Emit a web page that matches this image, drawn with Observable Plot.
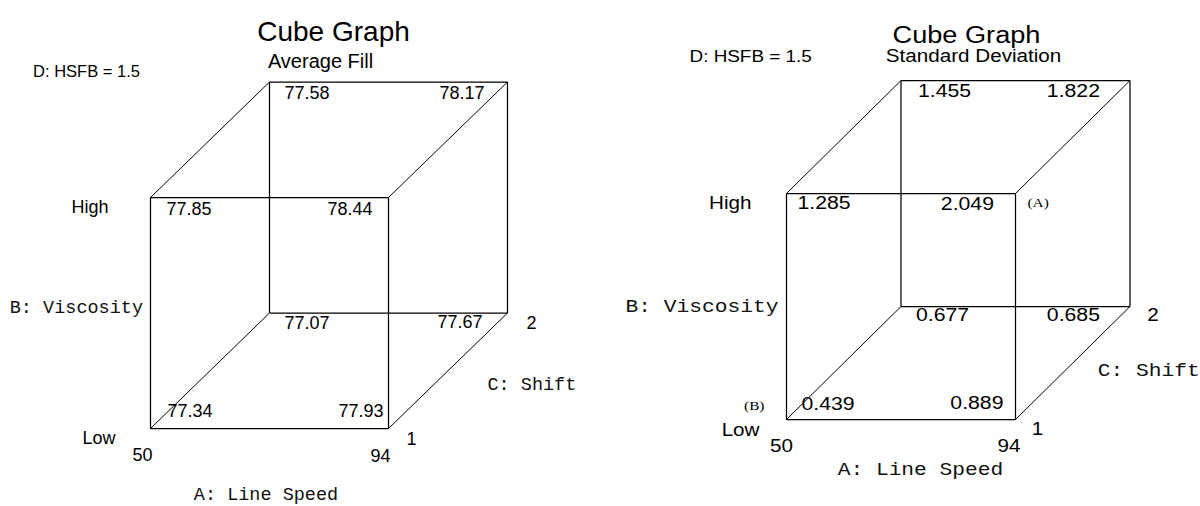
<!DOCTYPE html>
<html>
<head>
<meta charset="utf-8">
<script src="https://cdn.jsdelivr.net/npm/d3@7"></script>
<script src="https://cdn.jsdelivr.net/npm/@observablehq/plot@0.6"></script>
<style>
  html, body { margin: 0; padding: 0; background: #fff; }
  #wrap { display: flex; width: 1200px; height: 506px; }
  #wrap > svg, #wrap > figure { flex: none; margin: 0; }
</style>
</head>
<body>
<div id="wrap"></div>
<script>
// ---------------- data ----------------
const aLevels = ["50", "94"];        // A: Line Speed (low, high)
const bLevels = ["Low", "High"];     // B: Viscosity (low, high)
const cLevels = ["1", "2"];          // C: Shift (front, back)
const factorA = "A: Line Speed";
const factorB = "B: Viscosity";
const factorC = "C: Shift";
const fixedFactor = "D: HSFB = 1.5";
const chartTitle = "Cube Graph";
const responses = ["Average Fill", "Standard Deviation"];
// cube corners as coded level indices
const cornerA = [0, 1, 0, 1, 0, 1, 0, 1];
const cornerB = [0, 0, 1, 1, 0, 0, 1, 1];
const cornerC = [0, 0, 0, 0, 1, 1, 1, 1];
const avgFill = [77.34, 77.93, 77.85, 78.44, 77.07, 77.67, 77.58, 78.17];
const stdDev  = [0.439, 0.889, 1.285, 2.049, 0.677, 0.685, 1.455, 1.822];
const pointLabels = ["(A)", "(B)"];

// ---------------- layout / style ----------------
const SANS = "'Liberation Sans', Arial, Helvetica, sans-serif";
const MONO = "'Courier New', 'Liberation Mono', monospace";
const SERIF = "'Liberation Serif', 'Times New Roman', serif";
const DEPTH = 0.5; // oblique projection of factor C

const px = (a, b, c) => a + DEPTH * c;
const py = (a, b, c) => b + DEPTH * c;

const corners = d3.range(8);
const edges = [];
for (const i of corners) for (const j of corners) {
  if (j <= i) continue;
  const diff = (cornerA[i] !== cornerA[j]) + (cornerB[i] !== cornerB[j]) + (cornerC[i] !== cornerC[j]);
  if (diff === 1) edges.push({i, j, diag: cornerC[i] !== cornerC[j]});
}

function at(a, b, c, text, opts) {
  return Plot.text([text], {x: () => px(a, b, c), y: () => py(a, b, c), text: d => d, ...opts});
}

function cube(cfg) {
  const marks = [];
  const link = (list, w) => Plot.link(list, {
    x1: e => px(cornerA[e.i], cornerB[e.i], cornerC[e.i]),
    y1: e => py(cornerA[e.i], cornerB[e.i], cornerC[e.i]),
    x2: e => px(cornerA[e.j], cornerB[e.j], cornerC[e.j]),
    y2: e => py(cornerA[e.j], cornerB[e.j], cornerC[e.j]),
    stroke: "#000", strokeWidth: w
  });
  marks.push(link(edges.filter(e => !e.diag), 1.25));
  marks.push(link(edges.filter(e => e.diag), 1));
  // corner values
  for (const i of corners) {
    const [dx, dy] = cfg.valOff[i];
    marks.push(Plot.text([i], {
      x: k => px(cornerA[k], cornerB[k], cornerC[k]),
      y: k => py(cornerA[k], cornerB[k], cornerC[k]),
      text: k => cfg.values[k].toFixed(cfg.digits),
      textAnchor: cornerA[i] ? "end" : "start",
      dx, dy, fontSize: cfg.valSize, fontFamily: SANS, fill: "#000"
    }));
  }
  const L = cfg.lab;
  // level labels
  marks.push(at(0, 1, 0, bLevels[1], {textAnchor: "end", dx: L.high[0], dy: L.high[1], fontSize: cfg.labSize, fontFamily: SANS}));
  marks.push(at(0, 0, 0, bLevels[0], {textAnchor: "end", dx: L.low[0], dy: L.low[1], fontSize: cfg.labSize, fontFamily: SANS}));
  marks.push(at(0, 0, 0, aLevels[0], {textAnchor: "middle", dx: L.a0[0], dy: L.a0[1], fontSize: cfg.labSize, fontFamily: SANS}));
  marks.push(at(1, 0, 0, aLevels[1], {textAnchor: "middle", dx: L.a1[0], dy: L.a1[1], fontSize: cfg.labSize, fontFamily: SANS}));
  marks.push(at(1, 0, 0, cLevels[0], {textAnchor: "middle", dx: L.c0[0], dy: L.c0[1], fontSize: cfg.labSize, fontFamily: SANS}));
  marks.push(at(1, 0, 1, cLevels[1], {textAnchor: "middle", dx: L.c1[0], dy: L.c1[1], fontSize: cfg.labSize, fontFamily: SANS}));
  // factor names
  marks.push(at(0, 0.5, 0, factorB, {textAnchor: "end", dx: L.fB[0], dy: L.fB[1], fontSize: cfg.monoSize, fontFamily: MONO, fill: "#111"}));
  marks.push(at(1, 0, 0.5, factorC, {textAnchor: "start", dx: L.fC[0], dy: L.fC[1], fontSize: cfg.monoSize, fontFamily: MONO, fill: "#111"}));
  marks.push(at(0.5, 0, 0, factorA, {textAnchor: "middle", dx: L.fA[0], dy: L.fA[1], fontSize: cfg.monoSize, fontFamily: MONO, fill: "#111"}));
  // titles
  marks.push(Plot.text([chartTitle], {frameAnchor: "top-left", text: d => d, textAnchor: "middle", dx: cfg.title[0], dy: cfg.title[1], fontSize: cfg.titleSize, fontFamily: SANS}));
  marks.push(Plot.text([cfg.subtitle], {frameAnchor: "top-left", text: d => d, textAnchor: "middle", dx: cfg.sub[0], dy: cfg.sub[1], fontSize: cfg.subSize, fontFamily: SANS}));
  marks.push(Plot.text([fixedFactor], {frameAnchor: "top-left", text: d => d, textAnchor: "start", dx: cfg.fixed[0], dy: cfg.fixed[1], fontSize: cfg.fixedSize, fontFamily: SANS}));
  if (cfg.extra) marks.push(...cfg.extra);

  return Plot.plot({
    width: 600, height: 506, margin: 0,
    x: {domain: [0, 1], range: cfg.xr, axis: null},
    y: {domain: [0, 1], range: cfg.yr, axis: null},
    style: {background: "#fff", overflow: "visible"},
    marks
  });
}

// widen glyphs horizontally (the right-hand graph is drawn slightly stretched)
function stretchText(svg, sx) {
  for (const t of svg.querySelectorAll("text")) {
    const len = t.getComputedTextLength();
    if (len > 0) {
      t.setAttribute("textLength", (len * sx).toFixed(2));
      t.setAttribute("lengthAdjust", "spacingAndGlyphs");
    }
  }
}

const left = cube({
  values: avgFill, digits: 2, subtitle: responses[0],
  xr: [150, 388], yr: [428, 197],
  valSize: 18, labSize: 18, monoSize: 18.5,
  valOff: [[17, -17], [-5, -17], [16, 12], [-16, 12], [15, 10], [-25, 9], [15, 11], [-23, 11]],
  lab: {high: [-42, 10], low: [-35, 10], a0: [-8, 27], a1: [-8, 28], c0: [23, 11], c1: [24, 10],
        fB: [-7.5, -5.5], fC: [39.5, 13], fA: [-3.5, 66]},
  title: [333, 21], titleSize: 28,
  sub: [320, 53.6], subSize: 20,
  fixed: [32.6, 64.7], fixedSize: 16.5
});

const right = cube({
  values: stdDev, digits: 3, subtitle: responses[1],
  xr: [186, 415], yr: [419, 193],
  valSize: 18, labSize: 17.5, monoSize: 18,
  valOff: [[15, -15], [-12, -16], [11, 10], [-21.5, 11], [15, 9], [-30, 9], [17, 11], [-30, 11]],
  lab: {high: [-35, 9.4], low: [-27, 10.4], a0: [-5, 27], a1: [-6.5, 27], c0: [22, 10], c1: [23, 9],
        fB: [-8, 0], fC: [25, 7.5], fA: [19.5, 50]},
  title: [366, 26.6], titleSize: 23,
  sub: [373, 49.4], subSize: 17.5,
  fixed: [89, 50], fixedSize: 16,
  extra: [
    at(1, 1, 0, pointLabels[0], {textAnchor: "start", dx: 12, dy: 9.5, fontSize: 13, fontFamily: SERIF}),
    at(0, 0, 0, pointLabels[1], {textAnchor: "end", dx: -22, dy: -13.5, fontSize: 13, fontFamily: SERIF})
  ]
});

const wrap = document.getElementById("wrap");
wrap.append(left, right);
stretchText(right, 1.18);
</script>
</body>
</html>
